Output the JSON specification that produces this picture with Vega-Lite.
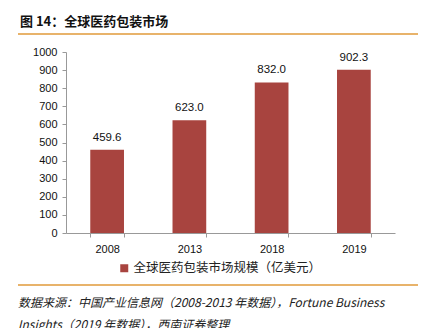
{
  "$schema": "https://vega.github.io/schema/vega-lite/v6.json",
  "autosize": "none",
  "width": 329,
  "height": 181,
  "padding": {"left": 66, "top": 52, "right": 34, "bottom": 95},
  "background": "white",
  "config": {
    "view": {"stroke": null},
    "font": "Liberation Sans",
    "axis": {"labelFont": "Liberation Sans", "labelColor": "#111", "domainColor": "#999", "tickColor": "#999", "labelFontSize": 11}
  },
  "data": {"values": [
    {"year": "2008", "value": 459.6, "series": "全球医药包装市场规模（亿美元）"},
    {"year": "2013", "value": 623.0, "series": "全球医药包装市场规模（亿美元）"},
    {"year": "2018", "value": 832.0, "series": "全球医药包装市场规模（亿美元）"},
    {"year": "2019", "value": 902.3, "series": "全球医药包装市场规模（亿美元）"}
  ]},
  "layer": [
    {
      "encoding": {
        "x": {"field": "year", "type": "nominal", "sort": null,
              "scale": {"paddingInner": 0.59, "paddingOuter": 0.295},
              "axis": {"title": null, "labelAngle": 0, "tickBand": "extent", "labelPadding": 6, "tickSize": 4}},
        "y": {"field": "value", "type": "quantitative",
              "scale": {"domain": [0, 1000]},
              "axis": {"title": null, "values": [0,100,200,300,400,500,600,700,800,900,1000], "format": "d", "grid": false, "tickSize": 4, "labelPadding": 5, "labelOverlap": false, "labelFlush": false}}
      },
      "layer": [
        {
          "mark": {"type": "bar", "color": "#A8443F"},
          "encoding": {
            "fill": {"field": "series", "type": "nominal",
                     "scale": {"range": ["#A8443F"]},
                     "legend": {"title": null, "orient": "none", "legendX": 52, "legendY": 210,
                                "symbolType": "square", "symbolSize": 64, "labelFont": "Noto Sans CJK SC",
                                "labelFontSize": 12.5, "labelColor": "#222", "labelOffset": 3, "labelLimit": 400}}
          }
        },
        {
          "mark": {"type": "text", "baseline": "bottom", "dy": -7, "fontSize": 11.5, "color": "#111", "font": "Liberation Sans"},
          "encoding": {
            "text": {"field": "value", "type": "quantitative", "format": ".1f"}
          }
        }
      ]
    },
    {
      "data": {"values": [{}]},
      "layer": [
        {"mark": {"type": "text", "text": "图 14：全球医药包装市场", "align": "left", "baseline": "middle",
                  "fontSize": 13, "fontWeight": "bold", "font": "Noto Sans CJK SC", "color": "#111"},
         "encoding": {"x": {"value": -46}, "y": {"value": -30}}},
        {"mark": {"type": "rule", "color": "#E09A3A", "strokeWidth": 1.5},
         "encoding": {"x": {"value": -48}, "x2": {"value": 352}, "y": {"value": -18}}},
        {"mark": {"type": "rule", "color": "#E09A3A", "strokeWidth": 1.5},
         "encoding": {"x": {"value": -48}, "x2": {"value": 352}, "y": {"value": 233}}},
        {"mark": {"type": "text", "text": ["数据来源：中国产业信息网（2008-2013 年数据），Fortune Business", "Insights（2019 年数据），西南证券整理"],
                  "align": "left", "baseline": "middle", "fontSize": 12, "fontStyle": "italic", "lineHeight": 22,
                  "font": "Noto Sans CJK SC", "color": "#222"},
         "encoding": {"x": {"value": -48}, "y": {"value": 251}}}
      ]
    }
  ]
}
